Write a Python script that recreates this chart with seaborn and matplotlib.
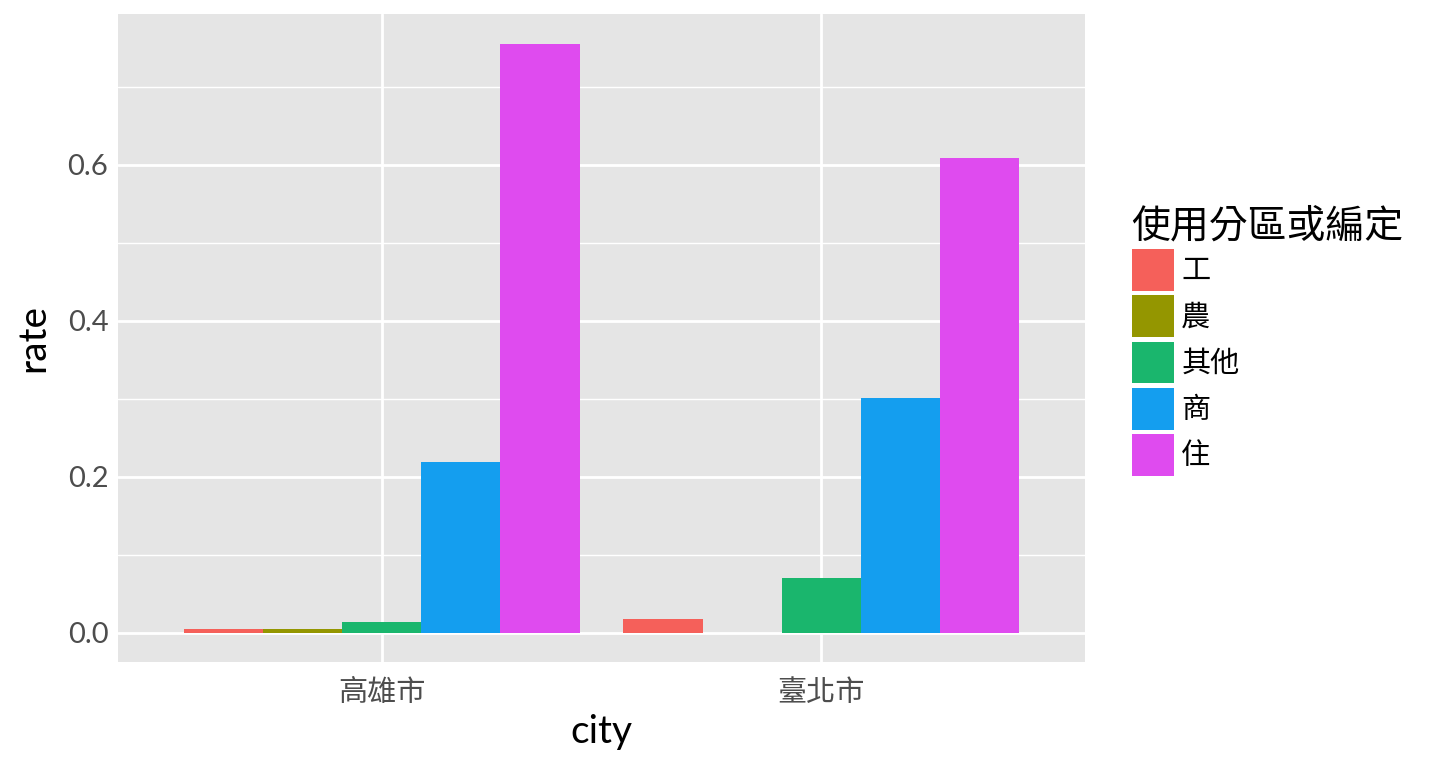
import matplotlib
matplotlib.use("Agg")
import matplotlib.pyplot as plt
import seaborn as sns
import pandas as pd
from matplotlib.ticker import MultipleLocator

cities = ["高雄市", "臺北市"]
zones = ["工", "農", "其他", "商", "住"]
rate_kaohsiung = [0.005, 0.004, 0.014, 0.219, 0.755]
rate_taipei = [0.018, 0.0, 0.0705, 0.301, 0.609]
colors = ["#F5605A", "#949600", "#1AB66D", "#149EEF", "#DF4BEF"]

rows = []
for z, v in zip(zones, rate_kaohsiung):
    rows.append({"city": cities[0], "zone": z, "rate": v})
for z, v in zip(zones, rate_taipei):
    rows.append({"city": cities[1], "zone": z, "rate": v})
df = pd.DataFrame(rows)

sns.set_theme(style="darkgrid")
fam = ["Lato", "Noto Sans CJK TC", "DejaVu Sans"]
plt.rcParams["font.family"] = fam

fig = plt.figure(figsize=(14.4, 7.68), dpi=100)
ax = fig.add_axes([118/1440, 106/768, 967/1440, 648/768])
ax.set_facecolor("#E5E5E5")

sns.barplot(data=df, x="city", y="rate", hue="zone", hue_order=zones,
            order=cities, palette=colors, width=0.9, errorbar=None,
            linewidth=0, saturation=1, ax=ax)

ax.set_xlim(-0.6, 1.6)
ax.set_ylim(-0.0378, 0.7936)
ax.yaxis.set_major_locator(MultipleLocator(0.2))
ax.yaxis.set_minor_locator(MultipleLocator(0.1))
ax.set_yticks([0.0, 0.2, 0.4, 0.6])
ax.set_yticklabels(["0.0", "0.2", "0.4", "0.6"])
ax.grid(which="major", color="white", linewidth=2.0)
ax.grid(which="minor", axis="y", color="white", linewidth=1.0)
ax.set_axisbelow(True)
for s in ax.spines.values():
    s.set_visible(False)

ax.tick_params(axis="both", which="major", length=5, width=1.5, color="#333333",
               labelcolor="#4D4D4D", labelsize=21)
ax.tick_params(axis="y", which="major", pad=2)
ax.tick_params(axis="x", which="major", pad=7)
ax.tick_params(axis="both", which="minor", length=0)
ax.set_xlabel("city", fontsize=28, color="black", labelpad=6)
ax.set_ylabel("rate", fontsize=28, color="black", labelpad=12)

leg = ax.get_legend()
handles = leg.legend_handles
leg.remove()
lg = fig.legend(handles, zones, title="使用分區或編定", loc="upper left",
                bbox_to_anchor=(1120/1440, 1 - 196/768), frameon=False,
                fontsize=21, title_fontsize=28, handlelength=1.45,
                handleheight=1.82, labelspacing=0.16, handletextpad=0.25,
                borderaxespad=0, alignment="left")
lg.get_title().set_color("black")
lg.get_title().set_fontweight("medium")
for t in lg.get_texts():
    t.set_color("black")

fig.savefig("out.png", dpi=100, facecolor="white")
